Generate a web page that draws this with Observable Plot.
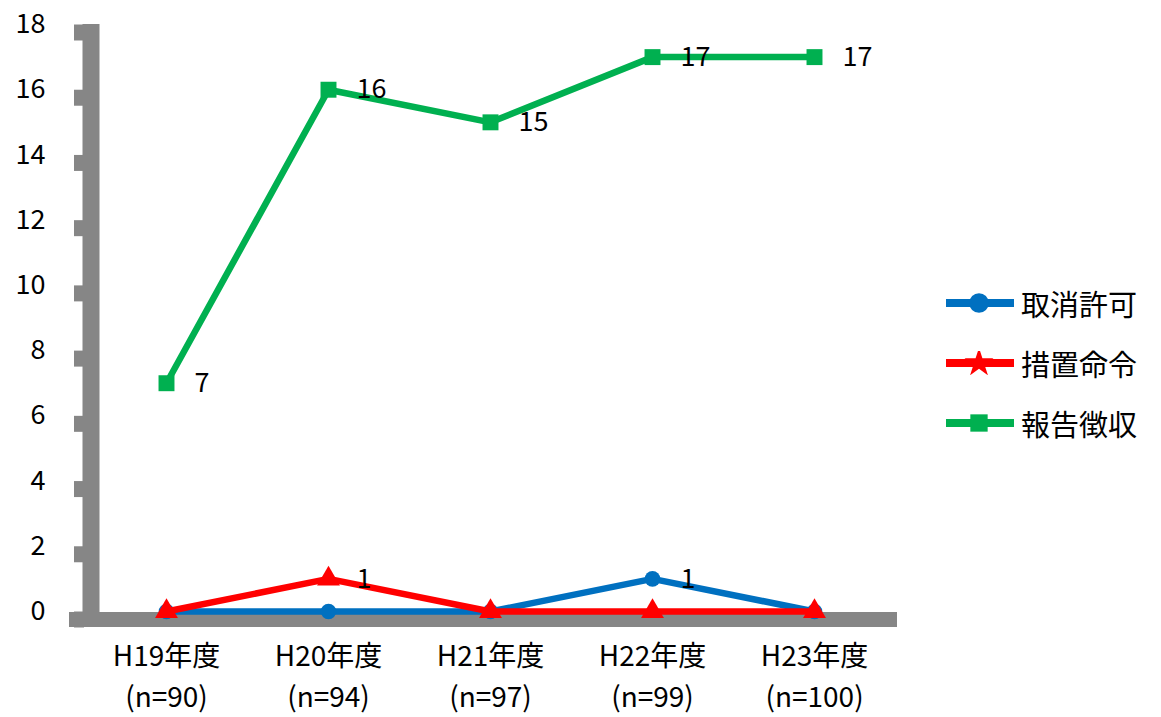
<!DOCTYPE html>
<html><head><meta charset="utf-8">
<script src="https://cdn.jsdelivr.net/npm/d3@7"></script>
<script src="https://cdn.jsdelivr.net/npm/@observablehq/plot@0.6"></script>
<style>
body{margin:0;background:#fff;font-family:"Noto Sans CJK JP",sans-serif;}
#wrap{position:relative;width:1161px;height:717px;}
#legend{position:absolute;left:944px;top:273px;}
.row{display:flex;align-items:center;height:60px;font-size:29px;color:#000;line-height:1;}
.row svg{margin-right:5px;display:block}
</style></head><body><div id="wrap"><div id="chart"></div><div id="legend"></div></div>
<script>
const categories = ["H19年度","H20年度","H21年度","H22年度","H23年度"];
const sampleSizes = ["(n=90)","(n=94)","(n=97)","(n=99)","(n=100)"];
const torikeshiKyoka = [0,0,0,1,0];
const sochiMeirei = [0,1,0,0,0];
const houkokuChoushu = [7,16,15,17,17];
const seriesNames = ["取消許可","措置命令","報告徴収"];
const seriesColors = ["#0070C0","#FF0000","#00B050"];
const seriesSymbols = ["circle","triangle","square"];
const yTicks = [0,2,4,6,8,10,12,14,16,18];

const seriesValues = [torikeshiKyoka, sochiMeirei, houkokuChoushu];
const symbolR = {circle:7.8, triangle:8.5, square:9};
const data = [];
seriesValues.forEach((vals, s) => vals.forEach((v, i) => data.push({cat: categories[i], series: seriesNames[s], value: v})));

const gray = "#868686";
const marks = [
  Plot.frame({anchor:"left", stroke:gray, strokeWidth:17, dx:6.5, insetTop:8}),
  Plot.axisY(yTicks, {tickSize:10, stroke:gray, strokeWidth:16, dy:8, tickFormat:()=>"", label:null}),
  Plot.axisY(yTicks, {tickSize:0, tickPadding:39, fontSize:27, fill:"#000", label:null}),
  Plot.ruleY([0], {stroke:gray, strokeWidth:15, dy:8, insetLeft:-15, insetRight:-2}),
  Plot.axisX({tickSize:0, tickPadding:25, fontSize:28, lineHeight:1.48, fill:"#000", label:null,
    tickFormat:(d)=> d + "\n" + sampleSizes[categories.indexOf(d)]})
];
seriesNames.forEach((name, s) => {
  const rows = data.filter(d => d.series === name);
  marks.push(Plot.line(rows, {x:"cat", y:"value", stroke:seriesColors[s], strokeWidth:6.5}));
  marks.push(Plot.dot(rows, {x:"cat", y:"value", fill:seriesColors[s], symbol:seriesSymbols[s], r:symbolR[seriesSymbols[s]], stroke:"none"}));
});
marks.push(Plot.text(data.filter(d => d.value > 0), {x:"cat", y:"value", text:"value", dx:28, textAnchor:"start", fontSize:27, fill:"#000"}));

const chart = Plot.plot({
  width:1161, height:717,
  marginLeft:84, marginRight:266, marginTop:24, marginBottom:106,
  style:{fontFamily:'"Noto Sans CJK JP", sans-serif', color:"#000", background:"#fff"},
  x:{type:"point", domain:categories, padding:0.5, axis:null, label:null},
  y:{domain:[0,18], axis:null, label:null},
  marks
});
document.getElementById("chart").appendChild(chart);

const legend = document.getElementById("legend");
seriesNames.forEach((name, s) => {
  const row = document.createElement("div");
  row.className = "row";
  const svg = d3.create("svg").attr("width",72).attr("height",24);
  svg.append("line").attr("x1",2).attr("x2",70).attr("y1",12).attr("y2",12)
    .attr("stroke",seriesColors[s]).attr("stroke-width",8);
  const sym = s === 0 ? d3.symbolCircle : s === 1 ? d3.symbolStar : d3.symbolSquare;
  svg.append("path").attr("transform","translate(35,12)")
    .attr("d", d3.symbol(sym, s === 1 ? 260 : 300)()).attr("fill",seriesColors[s]);
  row.appendChild(svg.node());
  const t = document.createElement("span");
  t.textContent = name;
  row.appendChild(t);
  legend.appendChild(row);
});
</script></body></html>
